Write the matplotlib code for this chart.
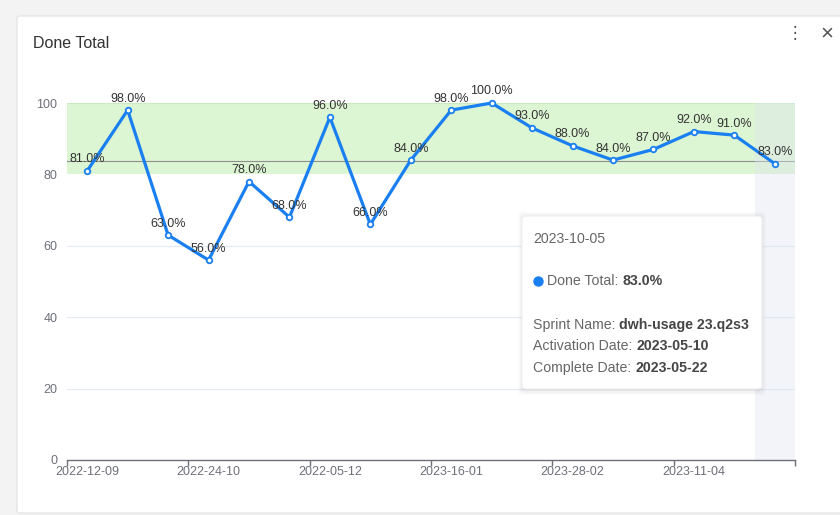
import matplotlib
matplotlib.use("Agg")
import matplotlib.pyplot as plt
from matplotlib.lines import Line2D
from matplotlib.patches import FancyBboxPatch
from matplotlib.ticker import FixedLocator

# ---------------------------------------------------------------------------
# Data
# ---------------------------------------------------------------------------
done_total = [81, 98, 63, 56, 78, 68, 96, 66, 84, 98, 100, 93, 88, 84, 87, 92, 91, 83]
shown_dates = ["2022-12-09", "2022-24-10", "2022-05-12",
               "2023-16-01", "2023-28-02", "2023-11-04"]
label_step = 3
target_band = (80, 100)
y_ticks = [0, 20, 40, 60, 80, 100]
hover_index = 17
tooltip_title = "2023-10-05"
tooltip_rows = [("Sprint Name: ", "dwh-usage 23.q2s3"),
                ("Activation Date: ", "2023-05-10"),
                ("Complete Date: ", "2023-05-22")]

# ---------------------------------------------------------------------------
# Theme
# ---------------------------------------------------------------------------
W, H = 840, 515
BLUE = "#1a7ff0"
GREEN = "#dcf5d3"
GRID = "#e6eaf2"
AXIS = "#6e7079"
TEXT = "#333333"
TIP_TEXT = "#666666"
TIP_BOLD = "#464646"
plt.rcParams["font.family"] = ["Liberation Sans", "DejaVu Sans"]


def fx(x):
    return x / W


def fy(y):
    return 1 - y / H


fig = plt.figure(figsize=(W / 100, H / 100), dpi=100)
fig.set_facecolor("#f3f3f4")

# card
card = FancyBboxPatch((fx(17), fy(513)), fx(860) - fx(17), fy(16) - fy(513),
                      boxstyle="round,pad=0,rounding_size=0.004",
                      transform=fig.transFigure, facecolor="white",
                      edgecolor="#e6e6e6", linewidth=1, zorder=0)
fig.add_artist(card)

fig.text(fx(33), fy(43), "Done Total", fontsize=11.5, color=TEXT,
         va="center", ha="left")
fig.text(fx(795), fy(33), "\u22ee", fontsize=12, color="#555555",
         va="center", ha="center")
fig.text(fx(827), fy(34), "\u00d7", fontsize=16, color="#555555",
         va="center", ha="center")

ax = fig.add_axes([fx(67), fy(460), fx(795) - fx(67), fy(103) - fy(460)])
ax.set_facecolor("none")
n = len(done_total)
xs = list(range(n))
ax.set_xlim(-0.5, n - 0.5)
ax.set_ylim(0, 100)

# target band and average line
ax.axhspan(target_band[0], target_band[1], color=GREEN, zorder=0, lw=0)
ax.axhline(target_band[1], color="#c9ecbf", lw=0.8, zorder=0.5)
for yv in y_ticks[1:4]:
    ax.axhline(yv, color=GRID, lw=0.9, zorder=0.5)
mean_val = sum(done_total) / n
ax.axhline(mean_val, color="#8f8f8f", lw=0.8, zorder=1)

# hover shadow
ax.axvspan(hover_index - 0.5, hover_index + 0.5, color="#dfe4f0", alpha=0.4,
           lw=0, zorder=1.5)

ax.plot(xs, done_total, color=BLUE, lw=2.3, zorder=3,
        marker="o", markersize=4, markerfacecolor="white",
        markeredgecolor=BLUE, markeredgewidth=1.3, clip_on=False)

for x, v in zip(xs, done_total):
    ax.annotate(f"{v:.1f}%", (x, v), xytext=(0, 4), textcoords="offset points",
                ha="center", va="bottom", fontsize=9, color=TEXT, zorder=4,
                annotation_clip=False)

# axes styling
for s in ("top", "right", "left"):
    ax.spines[s].set_visible(False)
ax.spines["bottom"].set_color(AXIS)
ax.spines["bottom"].set_linewidth(1)
ax.set_yticks(y_ticks)
ax.tick_params(axis="y", length=0, pad=7, labelsize=9, labelcolor=AXIS)

boundaries = [i - 0.5 for i in range(0, n + 1, label_step)]
ax.xaxis.set_major_locator(FixedLocator(boundaries))
ax.xaxis.set_major_formatter(plt.NullFormatter())
ax.xaxis.set_minor_locator(FixedLocator(xs[::label_step]))
ax.set_xticklabels(shown_dates, minor=True)
ax.tick_params(axis="x", which="major", length=4, width=1, color=AXIS)
ax.tick_params(axis="x", which="minor", length=0, pad=4, labelsize=9,
               labelcolor=AXIS)

# tooltip
for k, a in enumerate([0.045, 0.03, 0.018]):
    sh = FancyBboxPatch((fx(522 - k * 2), fy(389 + k * 2 + 2)),
                        fx(762 + k * 2) - fx(522 - k * 2),
                        fy(216 - k * 2) - fy(389 + k * 2 + 2),
                        boxstyle="round,pad=0,rounding_size=0.006",
                        transform=fig.transFigure, facecolor="black",
                        edgecolor="none", alpha=a, zorder=9)
    fig.add_artist(sh)
tip = FancyBboxPatch((fx(522), fy(389)), fx(762) - fx(522), fy(216) - fy(389),
                     boxstyle="round,pad=0,rounding_size=0.006",
                     transform=fig.transFigure, facecolor="white",
                     edgecolor="#eeeeee", linewidth=0.8, zorder=10)
fig.add_artist(tip)

renderer = fig.canvas.get_renderer()
TIP_FS = 10.2


def two_part(x, y, normal, bold):
    t = fig.text(fx(x), fy(y), normal, fontsize=TIP_FS, color=TIP_TEXT,
                 va="center", ha="left", zorder=11)
    bb = t.get_window_extent(renderer=renderer)
    fig.text(bb.x1 / fig.bbox.width, fy(y), bold, fontsize=TIP_FS,
             color=TIP_BOLD, fontweight="bold", va="center", ha="left",
             zorder=11)


fig.text(fx(533), fy(239), tooltip_title, fontsize=TIP_FS, color=TIP_TEXT,
         va="center", ha="left", zorder=11)
fig.add_artist(Line2D([fx(538)], [fy(281)], marker="o", markersize=6.5,
                      color=BLUE, transform=fig.transFigure, zorder=11))
two_part(547, 281, "Done Total: ", f"{done_total[hover_index]:.1f}%")
for i, (lbl, val) in enumerate(tooltip_rows):
    two_part(533, 325 + i * 21.5, lbl, val)

fig.savefig("out.png", dpi=100, facecolor=fig.get_facecolor())
